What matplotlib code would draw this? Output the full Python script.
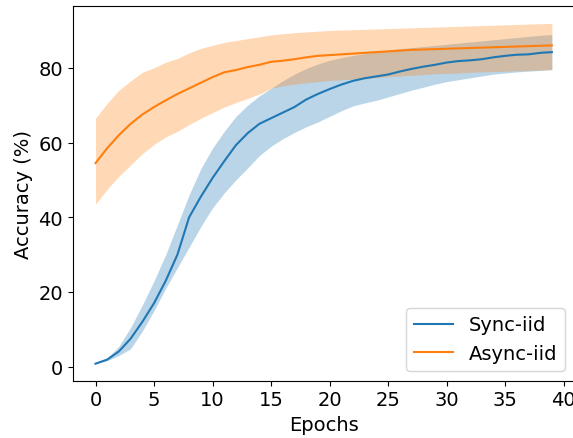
import matplotlib
matplotlib.use("Agg")
import matplotlib.pyplot as plt
import numpy as np

epochs = list(range(40))

sync_mean = [0.8, 1.9, 4.1, 7.5, 12.0, 17.0, 23.0, 30.0, 40.0, 45.5,
             50.5, 55.0, 59.3, 62.5, 65.0, 66.5, 68.0, 69.5, 71.5, 73.0,
             74.3, 75.5, 76.5, 77.2, 77.7, 78.2, 79.0, 79.7, 80.3, 80.8,
             81.4, 81.8, 82.0, 82.3, 82.8, 83.2, 83.5, 83.6, 84.0, 84.2]
sync_upper = [0.8, 2.3, 5.5, 10.5, 16.5, 23.0, 30.0, 38.0, 46.0, 53.0,
              58.5, 63.0, 67.0, 70.0, 72.5, 74.5, 76.5, 78.3, 79.8, 81.0,
              82.0, 82.7, 83.3, 83.8, 84.3, 84.7, 85.1, 85.4, 85.7, 86.0,
              86.3, 86.6, 86.9, 87.2, 87.5, 87.8, 88.1, 88.4, 88.7, 88.9]
sync_lower = [0.8, 1.6, 3.0, 4.8, 9.5, 15.0, 21.0, 26.5, 32.0, 37.5,
              42.5, 46.5, 50.0, 53.2, 56.5, 59.0, 61.0, 62.7, 64.2, 65.5,
              67.0, 68.5, 69.8, 70.6, 71.3, 72.2, 73.1, 74.0, 74.8, 75.6,
              76.3, 76.8, 77.3, 77.8, 78.3, 78.6, 78.9, 79.1, 79.3, 79.5]

async_mean = [54.5, 58.5, 62.0, 65.0, 67.5, 69.5, 71.3, 73.0, 74.5, 76.0,
              77.5, 78.8, 79.4, 80.2, 80.8, 81.6, 81.9, 82.3, 82.8, 83.2,
              83.4, 83.6, 83.8, 84.0, 84.2, 84.4, 84.6, 84.8, 84.9, 85.0,
              85.1, 85.2, 85.3, 85.4, 85.5, 85.6, 85.7, 85.8, 85.9, 86.0]
async_upper = [66.5, 70.5, 74.0, 76.5, 78.8, 80.0, 81.5, 82.5, 84.0, 85.2,
               86.0, 86.8, 87.3, 87.8, 88.3, 88.8, 89.1, 89.4, 89.6, 89.8,
               90.0, 90.1, 90.2, 90.3, 90.4, 90.5, 90.6, 90.7, 90.8, 90.9,
               91.0, 91.1, 91.2, 91.3, 91.4, 91.5, 91.6, 91.7, 91.8, 91.9]
async_lower = [43.5, 47.5, 51.0, 54.0, 57.0, 59.5, 61.5, 63.0, 64.8, 66.5,
               68.0, 69.5, 70.7, 71.8, 73.0, 74.5, 75.2, 75.6, 76.0, 76.3,
               76.6, 76.8, 77.0, 77.2, 77.4, 77.6, 77.8, 78.0, 78.2, 78.4,
               78.5, 78.6, 78.8, 78.9, 79.0, 79.1, 79.2, 79.3, 79.4, 79.5]

plt.rcParams.update({"font.size": 14})

fig = plt.figure(figsize=(5.73, 4.39), dpi=100)
# the right spine sits right at the figure edge, so "40" gets clipped like the original
ax = fig.add_axes([0.1269, 0.1305, 0.876, 0.8528])

ax.plot(epochs, sync_mean, color="tab:blue", label="Sync-iid")
ax.fill_between(epochs, sync_lower, sync_upper, color="tab:blue", alpha=0.3, linewidth=0)
ax.plot(epochs, async_mean, color="tab:orange", label="Async-iid")
ax.fill_between(epochs, async_lower, async_upper, color="tab:orange", alpha=0.3, linewidth=0)

ax.set_xticks(np.arange(0, 41, 5))
ax.set_xlabel("Epochs")
ax.set_ylabel("Accuracy (%)")
ax.legend(loc="lower right")

fig.savefig("out.png", dpi=100)
